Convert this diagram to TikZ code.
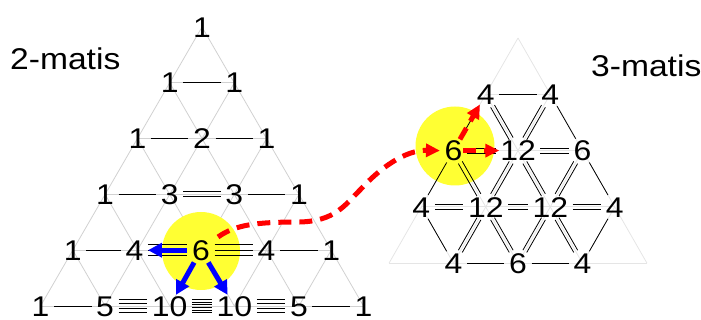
\documentclass[tikz,border=0pt]{standalone}
\usepackage{fontspec}
\setmainfont{Liberation Sans}[FakeStretch=1.12]
\usetikzlibrary{calc,arrows.meta}

\definecolor{latL}{gray}{0.82}
\definecolor{latR}{gray}{0.9}
\definecolor{hl}{rgb}{1,1,0.2}

\tikzset{
 num/.style={inner xsep=4.5pt, inner ysep=1.5pt, text height=20.4pt, text depth=0pt, font=\fontsize{28.5}{30}\selectfont},
 lab/.style={inner sep=0pt, anchor=base west, font=\fontsize{30}{32}\selectfont},
 latl/.style={draw=latL, line width=0.8pt},
 latr/.style={draw=latR, line width=0.8pt},
 conn/.style={draw=black, line width=0.8pt},
 hilite/.style={fill=hl},
 bluearr/.style={draw=blue, line width=5pt, -{Triangle[length=14pt,width=14pt]}},
 redarr/.style={draw=red, line width=5pt, dash pattern=on 13pt off 8pt, -{Triangle[length=14pt,width=13pt]}},
}

% #1,#2 nodes, #3 number of lines, #4 spacing, #5 perpendicular angle
\newcommand\mlines[5]{%
 \foreach \ii in {1,...,#3}{%
  \pgfmathsetmacro\off{(\ii-(#3+1)/2)*#4}%
  \draw[conn, transform canvas={shift={(#5:\off pt)}}] (#1) -- (#2);
 }}

\begin{document}
\begin{tikzpicture}[x=1pt,y=-1pt]
\useasboundingbox (0,0) rectangle (701,320);

% ---------- left lattice ----------
\foreach \k in {0,...,5}{\foreach \j in {0,...,\k}{
  \coordinate (g\k\j) at ({202+64.6*(\j-\k/2)},{27+55.8*\k});}}
\foreach \m in {0,...,5}{
  \pgfmathtruncatemacro\e{5-\m}
  \draw[latl] (g\m0) -- (g\m\m);
  \draw[latl] (g\m\m) -- (g5\m);
  \draw[latl] (g\m0) -- (g5\e);
}

% ---------- right lattice ----------
\foreach \k in {0,...,4}{\foreach \j in {0,...,\k}{
  \coordinate (h\k\j) at ({518+64.5*(\j-\k/2)},{38+56.3*\k});}}
\foreach \m in {0,...,4}{
  \pgfmathtruncatemacro\e{4-\m}
  \draw[latr] (h\m0) -- (h\m\m);
  \draw[latr] (h\m\m) -- (h4\m);
  \draw[latr] (h\m0) -- (h4\e);
}

% ---------- highlights ----------
\fill[hilite] (201,251) circle[radius=39pt];
\fill[hilite] (455,146) circle[radius=39.5pt];

% ---------- left numbers ----------
\node[num] (L00) at (g00) {1};
\node[num] (L10) at (g10) {1};
\node[num] (L11) at (g11) {1};
\node[num] (L20) at (g20) {1};
\node[num] (L21) at (g21) {2};
\node[num] (L22) at (g22) {1};
\node[num] (L30) at (g30) {1};
\node[num] (L31) at (g31) {3};
\node[num] (L32) at (g32) {3};
\node[num] (L33) at (g33) {1};
\node[num] (L40) at (g40) {1};
\node[num] (L41) at ($(g41)+(-3,0)$) {4};
\node[num] (L42) at ($(g42)+(-1,0)$) {6};
\node[num] (L43) at (g43) {4};
\node[num] (L44) at (g44) {1};
\node[num] (L50) at (g50) {1};
\node[num] (L51) at (g51) {5};
\node[num] (L52) at (g52) {10};
\node[num] (L53) at (g53) {10};
\node[num] (L54) at (g54) {5};
\node[num] (L55) at (g55) {1};

% ---------- right numbers ----------
\node[num] (R10) at (h10) {4};
\node[num] (R11) at (h11) {4};
\node[num] (R20) at (h20) {6};
\node[num] (R21) at (h21) {12};
\node[num] (R22) at (h22) {6};
\node[num] (R30) at (h30) {4};
\node[num] (R31) at (h31) {12};
\node[num] (R32) at (h32) {12};
\node[num] (R33) at (h33) {4};
\node[num] (R41) at (h41) {4};
\node[num] (R42) at (h42) {6};
\node[num] (R43) at (h43) {4};

% ---------- left connectors ----------
\mlines{L10}{L11}{1}{0}{90}
\mlines{L20}{L21}{1}{0}{90}
\mlines{L21}{L22}{1}{0}{90}
\mlines{L30}{L31}{1}{0}{90}
\mlines{L31}{L32}{2}{5}{90}
\mlines{L32}{L33}{1}{0}{90}
\mlines{L40}{L41}{1}{0}{90}
\mlines{L41}{L42}{3}{5.5}{90}
\mlines{L42}{L43}{3}{5.5}{90}
\mlines{L43}{L44}{1}{0}{90}
\mlines{L50}{L51}{1}{0}{90}
\mlines{L51}{L52}{4}{4.3}{90}
\mlines{L52}{L53}{6}{2.7}{90}
\mlines{L53}{L54}{4}{4.3}{90}
\mlines{L54}{L55}{1}{0}{90}

% ---------- right connectors ----------
\mlines{R10}{R11}{1}{0}{90}
\mlines{R20}{R21}{2}{5}{90}
\mlines{R21}{R22}{2}{5}{90}
\mlines{R30}{R31}{2}{5}{90}
\mlines{R31}{R32}{2}{5}{90}
\mlines{R32}{R33}{2}{5}{90}
\mlines{R41}{R42}{1}{0}{90}
\mlines{R42}{R43}{1}{0}{90}
\mlines{R10}{R20}{1}{0}{-30}
\mlines{R10}{R21}{2}{4.5}{30}
\mlines{R11}{R21}{2}{4.5}{-30}
\mlines{R11}{R22}{1}{0}{30}
\mlines{R20}{R30}{1}{0}{-30}
\mlines{R20}{R31}{2}{4.5}{30}
\mlines{R21}{R31}{2}{4.5}{-30}
\mlines{R21}{R32}{2}{4.5}{30}
\mlines{R22}{R32}{2}{4.5}{-30}
\mlines{R22}{R33}{1}{0}{30}
\mlines{R30}{R41}{1}{0}{30}
\mlines{R31}{R41}{2}{4.5}{-30}
\mlines{R31}{R42}{2}{4.5}{30}
\mlines{R32}{R42}{2}{4.5}{-30}
\mlines{R32}{R43}{2}{4.5}{30}
\mlines{R33}{R43}{1}{0}{-30}

% ---------- labels ----------
\node[lab] (t2) at (10,69.5) {2-matis};
\node[lab] (t3) at (591,77) {3-matis};

% ---------- arrows ----------
\draw[bluearr] (L42.west) -- (L41.east);
\draw[bluearr] ($(L42)!0.22!(L52)$) -- ($(L42)!0.8!(L52)$);
\draw[bluearr] ($(L42)!0.22!(L53)$) -- ($(L42)!0.8!(L53)$);

\coordinate (cs) at (218,237);
\draw[redarr] (cs) .. controls (235,225) and (255,222) .. (300,222)
  .. controls (335,221) and (345,205) .. (360,190)
  .. controls (380,168) and (405,150) .. (R20.west);
\draw[redarr] ($(R20)!0.15!(R21)$) -- ($(R20)!0.71!(R21)$);
\draw[redarr] ($(R20)!0.2!(R10)$) -- ($(R20)!0.82!(R10)$);
\end{tikzpicture}
\end{document}
